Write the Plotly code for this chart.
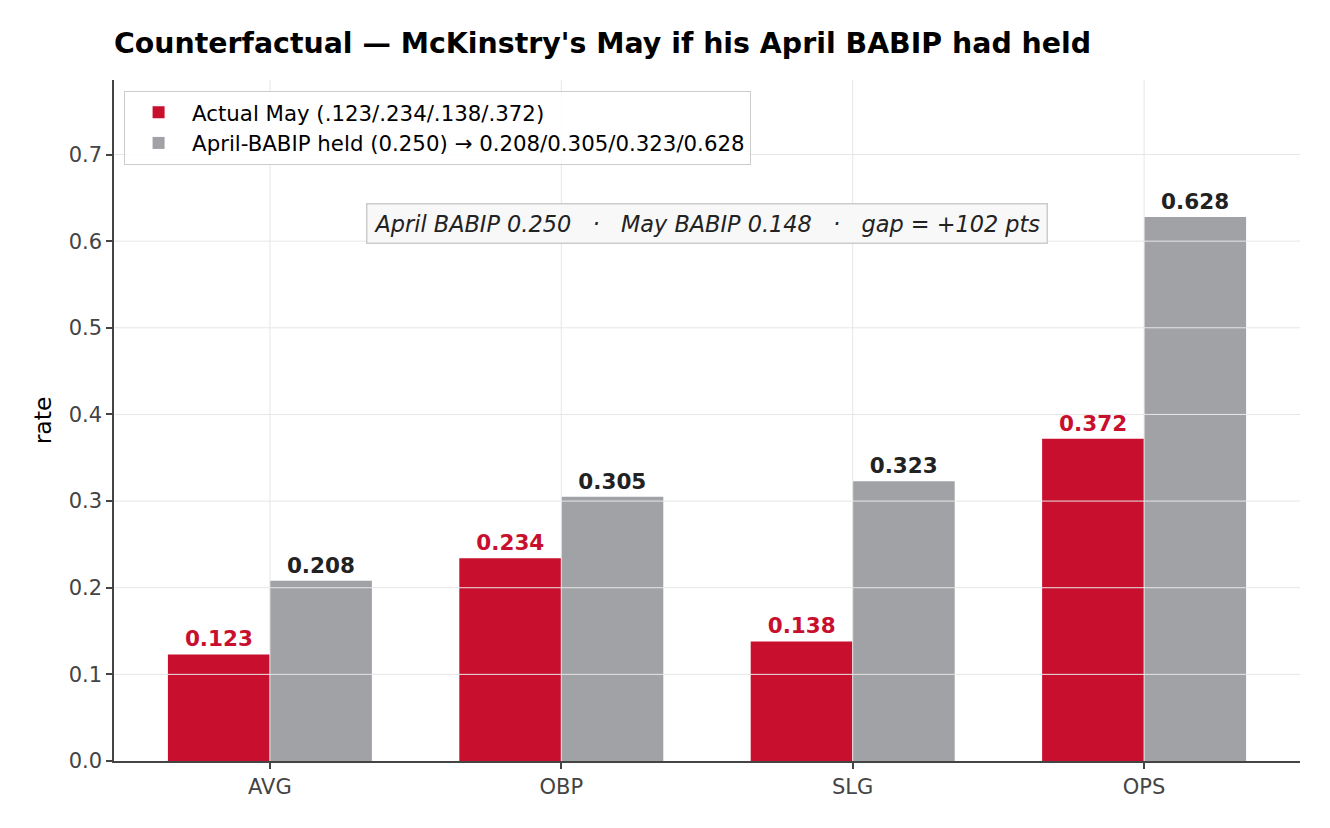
import plotly.graph_objects as go

categories = ["AVG", "OBP", "SLG", "OPS"]
actual_may = [0.123, 0.234, 0.138, 0.372]
april_babip_held = [0.208, 0.305, 0.323, 0.628]
y_ticks = [0.0, 0.1, 0.2, 0.3, 0.4, 0.5, 0.6, 0.7]

name_actual = "Actual May (.123/.234/.138/.372)"
name_held = "April-BABIP held (0.250) → 0.208/0.305/0.323/0.628"
title_text = "Counterfactual — McKinstry's May if his April BABIP had held"
note_text = "April BABIP 0.250   ·   May BABIP 0.148   ·   gap = +102 pts"

RED = "#C8102E"
GREY = "#A1A2A6"
FONT = "DejaVu Sans"

x_idx = list(range(len(categories)))

fig = go.Figure()
fig.add_trace(go.Bar(
    x=x_idx, y=actual_may, name=name_actual,
    marker=dict(color=RED, line=dict(width=0)),
    texttemplate="%{y:.3f}", textposition="outside",
    textfont=dict(family=FONT, size=21.5, color=RED, weight="bold"),
    cliponaxis=False,
))
fig.add_trace(go.Bar(
    x=x_idx, y=april_babip_held, name=name_held,
    marker=dict(color=GREY, line=dict(width=0)),
    texttemplate="%{y:.3f}", textposition="outside",
    textfont=dict(family=FONT, size=21.5, color="#222222", weight="bold"),
    cliponaxis=False,
))

# grid lines drawn above bars (as in the reference)
for t in y_ticks[1:]:
    fig.add_shape(type="line", xref="x domain", yref="y", x0=0, x1=1, y0=t, y1=t,
                  line=dict(color="#E6E6E6", width=1), layer="above")
for i in x_idx:
    fig.add_shape(type="line", xref="x", yref="y domain", x0=i, x1=i, y0=0, y1=1,
                  line=dict(color="#E6E6E6", width=1), layer="above")

fig.add_annotation(
    text=note_text, xref="paper", yref="paper", x=0.5, y=0.789,
    xanchor="center", yanchor="middle", showarrow=False,
    font=dict(family=FONT, size=22.4, color="#222222", style="italic"),
    bgcolor="#F8F8F8", bordercolor="#CCCCCC", borderwidth=1.5, borderpad=6,
)

fig.update_layout(
    width=1330, height=828,
    margin=dict(l=114, r=30, t=80, b=67),
    paper_bgcolor="white", plot_bgcolor="white",
    barmode="group", bargap=0.3, bargroupgap=0,
    font=dict(family=FONT, size=21, color="#444444"),
    title=dict(text=title_text, x=114 / 1330, xanchor="left", y=1 - 43 / 828, yanchor="middle",
               font=dict(family=FONT, size=28.4, color="black", weight="bold")),
    legend=dict(x=0.0085, y=0.984, xanchor="left", yanchor="top",
                bgcolor="rgba(255,255,255,0.85)", bordercolor="#CCCCCC", borderwidth=1,
                font=dict(family=FONT, size=21.3, color="black"),
                traceorder="normal", itemwidth=57),
    showlegend=True,
)
fig.update_xaxes(
    range=[-0.535, 3.535], tickmode="array", tickvals=x_idx, ticktext=categories,
    showgrid=False, zeroline=False,
    showline=True, linecolor="#444444", linewidth=1.5,
    ticks="outside", ticklen=6, tickcolor="#444444", tickwidth=1.5,
    tickfont=dict(family=FONT, size=21, color="#444444"),
)
fig.update_yaxes(
    range=[0, 0.786], tickmode="array", tickvals=y_ticks, tickformat=".1f",
    showgrid=False, zeroline=False,
    showline=True, linecolor="#444444", linewidth=1.5,
    ticks="outside", ticklen=6, tickcolor="#444444", tickwidth=1.5,
    tickfont=dict(family=FONT, size=21, color="#444444"),
    title=dict(text="rate", font=dict(family=FONT, size=23.5, color="black"), standoff=10),
)

fig.write_html("out.html")
